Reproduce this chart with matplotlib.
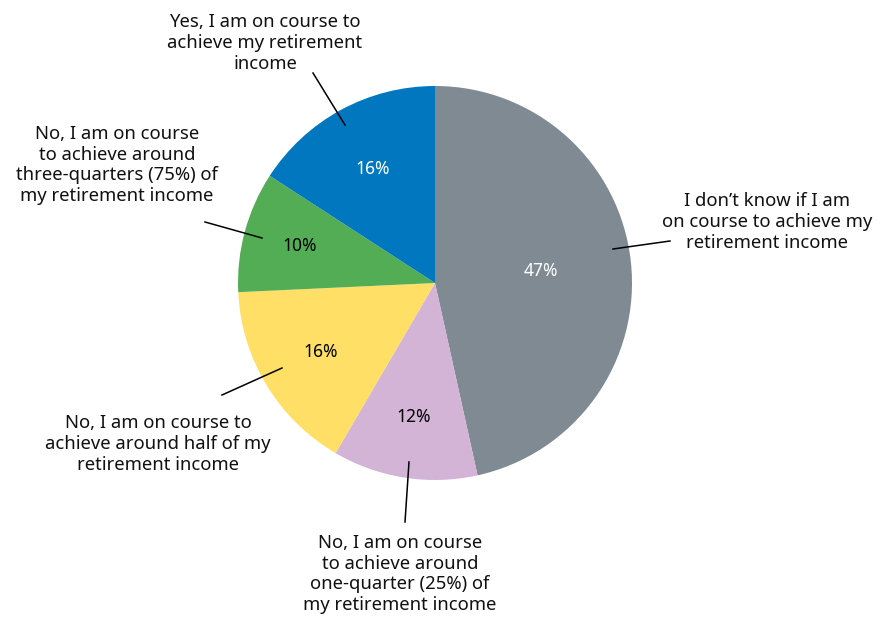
import matplotlib
matplotlib.use("Agg")
import matplotlib.pyplot as plt
import numpy as np

categories = [
    "I don\u2019t know if I am\non course to achieve my\nretirement income",
    "No, I am on course\nto achieve around\none-quarter (25%) of\nmy retirement income",
    "No, I am on course to\nachieve around half of my\nretirement income",
    "No, I am on course\nto achieve around\nthree-quarters (75%) of\nmy retirement income",
    "Yes, I am on course to\nachieve my retirement\nincome",
]
values = [47, 12, 16, 10, 16]
colors = ["#7f8a93", "#d3b4d6", "#ffdf66", "#53ad55", "#0077bf"]
pct_colors = ["white", "black", "black", "black", "white"]
pct_dist = [0.54, 0.69, 0.68, 0.71, 0.66]

# label placement (pixel coords, y from top)
label_pos = [(767, 222), (400, 574), (158, 444), (117, 165), (265, 43)]
line_pos = [((613, 249), (670, 241)), ((405, 522), (409, 462)),
            ((222, 395), (282, 368)), ((205, 222), (262, 238)),
            ((313, 73), (345, 125))]

plt.rcParams["font.family"] = ["Noto Sans", "DejaVu Sans"]

W, H = 886, 617
fig = plt.figure(figsize=(W / 100, H / 100), dpi=100)
ax = fig.add_axes([0, 0, 1, 1])

cx, cy, r = 435, H - 283, 197
wedges, texts = ax.pie(
    values, colors=colors, startangle=90, counterclock=False,
    center=(cx, cy), radius=r, frame=True,
    wedgeprops=dict(linewidth=0),
)
ax.set_xlim(0, W)
ax.set_ylim(0, H)
ax.set_aspect("equal")
ax.axis("off")

total = sum(values)
ang = 90.0
for v, c, d in zip(values, pct_colors, pct_dist):
    span = v / total * 360
    mid = np.deg2rad(ang - span / 2)
    ang -= span
    ax.text(cx + d * r * np.cos(mid), cy + d * r * np.sin(mid), f"{v}%",
            ha="center", va="center", fontsize=12.5, color=c)

for lab, (lx, ly), ((x1, y1), (x2, y2)) in zip(categories, label_pos, line_pos):
    ax.text(lx, H - ly, lab, ha="center", va="center", fontsize=13.3,
            linespacing=1.18, color="#111111")
    ax.plot([x1, x2], [H - y1, H - y2], color="black", lw=1.1)

fig.savefig("out.png", dpi=100)
